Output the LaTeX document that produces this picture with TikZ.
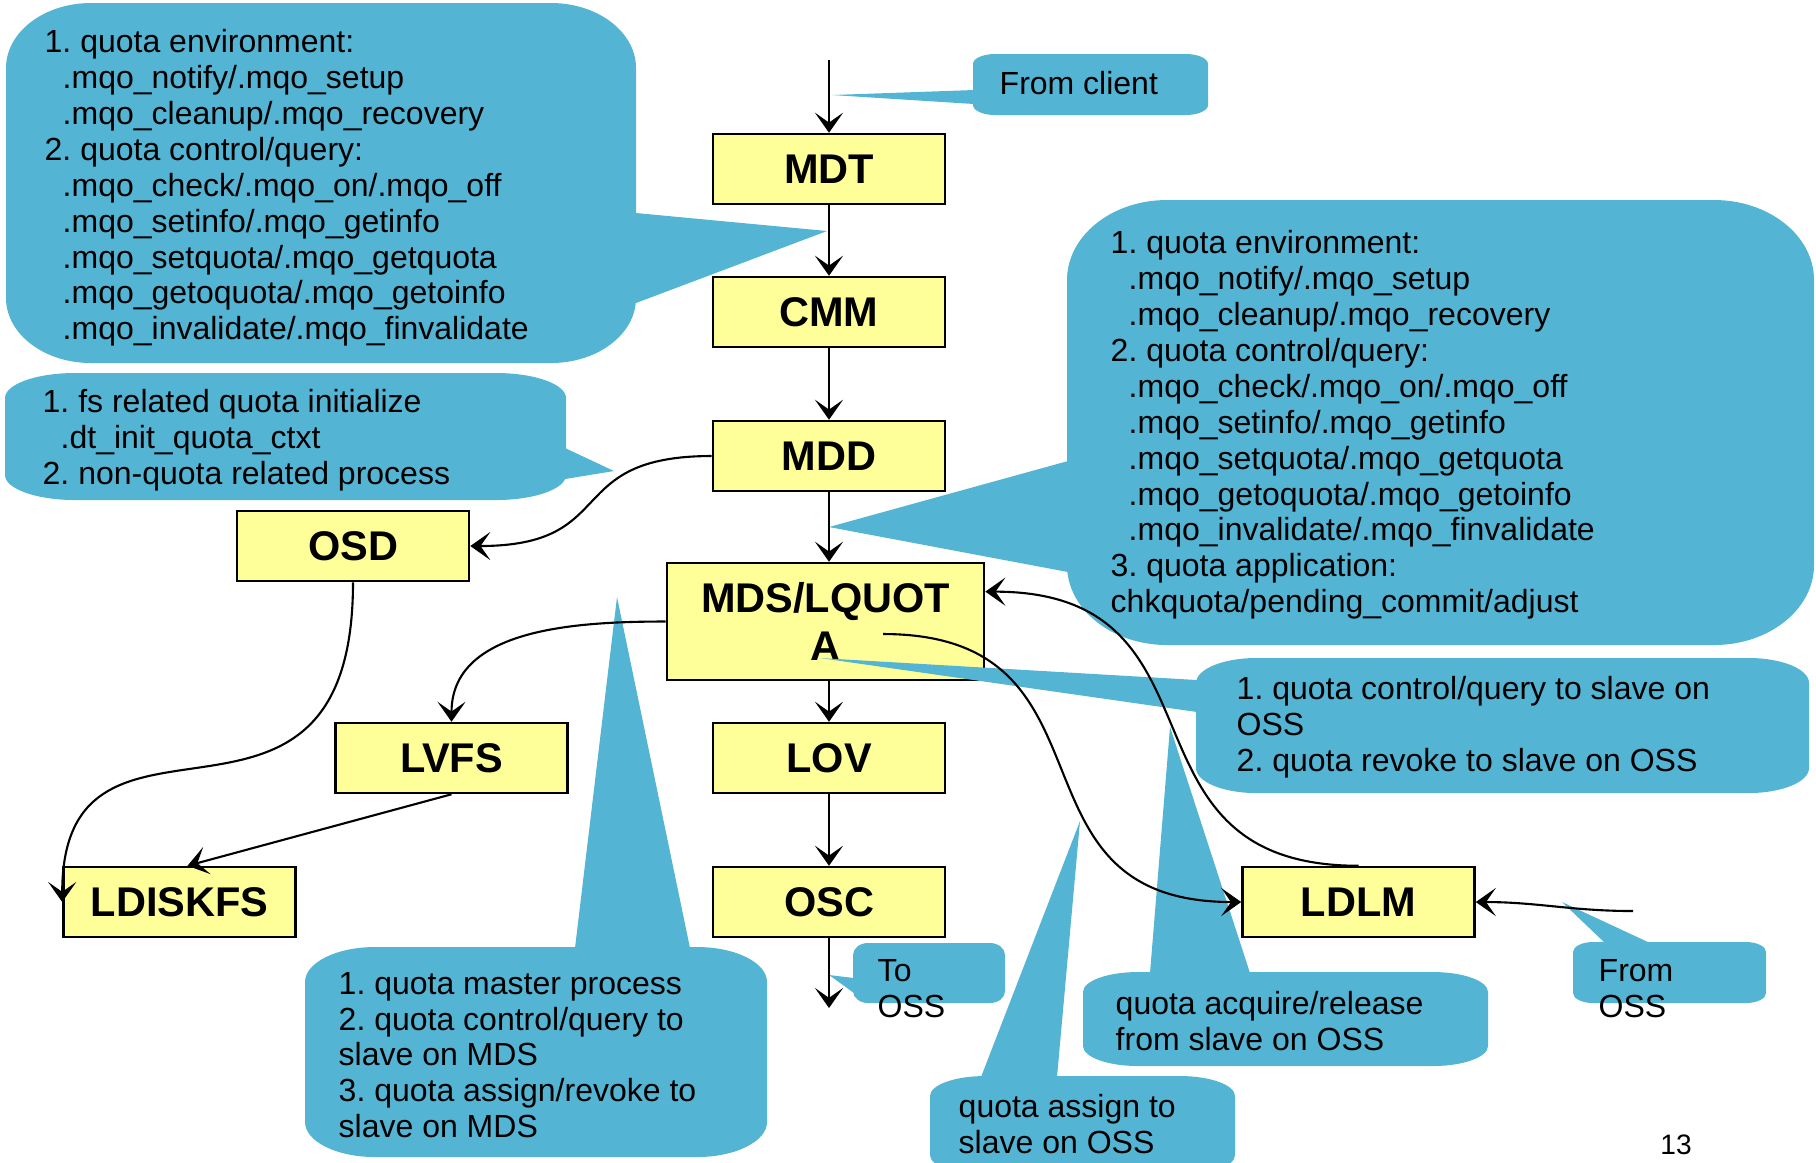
\documentclass[tikz,border=0pt]{standalone}
\usepackage{fontspec}
\setmainfont{Liberation Sans}
\usetikzlibrary{arrows.meta,calc}
\definecolor{calloutblue}{HTML}{53B4D4}
\definecolor{boxyellow}{HTML}{FFFF99}
\newcommand{\indnt}{\hspace*{0.18cm}}
% callout body: x1,y1,x2,y2,rx,ry (picture units)
\newcommand{\calloutbody}[6]{%
  \fill[calloutblue] (#1,#2+#6)
    arc[start angle=180,end angle=90,x radius=#5*0.01cm,y radius=#6*0.01cm]
    -- (#3-#5,#2) arc[start angle=90,end angle=0,x radius=#5*0.01cm,y radius=#6*0.01cm]
    -- (#3,#4-#6) arc[start angle=0,end angle=-90,x radius=#5*0.01cm,y radius=#6*0.01cm]
    -- (#1+#5,#4) arc[start angle=270,end angle=180,x radius=#5*0.01cm,y radius=#6*0.01cm]
    -- cycle;}

\begin{document}
\frenchspacing
\begin{tikzpicture}[
    x=0.01cm, y=-0.01cm,
    module/.style={draw, line width=0.7pt, fill=boxyellow, minimum width=2.32cm,
                   minimum height=0.70cm, inner sep=0pt,
                   font=\fontsize{11.8}{13.7}\selectfont\bfseries},
    bubbletext/.style={anchor=west, align=left, inner sep=0pt,
                       font=\fontsize{9.1}{10.2}\selectfont},
    tail/.style={fill=calloutblue},
    flow/.style={line width=0.6pt, -{Stealth[length=5.7pt,width=8pt,inset=2.8pt]}}
]

\useasboundingbox (0,0) rectangle (1816,1162);
\clip (0,0) rectangle (1816,1162);

% --- main stack ---
\node[module] (MDT) at (829,169) {MDT};
\node[module] (CMM) at (829,312) {CMM};
\node[module] (MDD) at (829,456) {MDD};
\node[module, minimum width=3.17cm, minimum height=1.17cm, align=center] (MDS) at (825.5,621.5) {MDS/LQUOT\\A};
\node[module] (LOV) at (829,758) {LOV};
\node[module] (OSC) at (829,902) {OSC};

% --- side modules ---
\node[module] (OSD) at (353,546) {OSD};
\node[module] (LVFS) at (451.5,758) {LVFS};
\node[module] (LDISKFS) at (179.5,902) {LDISKFS};
\node[module] (LDLM) at (1358.5,902) {LDLM};

% --- free ends ---
\coordinate (client) at (829,60);
\coordinate (toOSS) at (829,1008);
\coordinate (fromOSS) at (1633,911);
\coordinate (mdsA) at (883,634);
\coordinate (mdsR) at ($(MDS.north east)!0.25!(MDS.south east)$);

% --- callouts ---
\calloutbody{6}{3}{636}{363}{85}{65}
\fill[tail] (636,213) -- (827,231) -- (636,303) -- cycle;
\node[bubbletext] (cmmNote) at (44,188) {1. quota environment:\\
  \indnt .mqo\_notify/.mqo\_setup\\
  \indnt .mqo\_cleanup/.mqo\_recovery\\
  2. quota control/query:\\
  \indnt .mqo\_check/.mqo\_on/.mqo\_off\\
  \indnt .mqo\_setinfo/.mqo\_getinfo\\
  \indnt .mqo\_setquota/.mqo\_getquota\\
  \indnt .mqo\_getoquota/.mqo\_getoinfo\\
  \indnt .mqo\_invalidate/.mqo\_finvalidate};

\calloutbody{973}{54}{1208}{115}{22}{10}
\fill[tail] (974,90) -- (832,95) -- (974,104) -- cycle;
\node[bubbletext] (clientNote) at (999,83) {From client};

\calloutbody{1067}{200}{1814}{645}{100}{80}
\fill[tail] (1068,461) -- (829,527) -- (1068,572) -- cycle;
\node[bubbletext] (mddNote) at (1110,425) {1. quota environment:\\
  \indnt .mqo\_notify/.mqo\_setup\\
  \indnt .mqo\_cleanup/.mqo\_recovery\\
  2. quota control/query:\\
  \indnt .mqo\_check/.mqo\_on/.mqo\_off\\
  \indnt .mqo\_setinfo/.mqo\_getinfo\\
  \indnt .mqo\_setquota/.mqo\_getquota\\
  \indnt .mqo\_getoquota/.mqo\_getoinfo\\
  \indnt .mqo\_invalidate/.mqo\_finvalidate\\
  3. quota application:\\
  chkquota/pending\_commit/adjust};

\calloutbody{5}{373}{566}{500}{70}{25}
\fill[tail] (565,448) -- (614,471) -- (565,479) -- cycle;
\node[bubbletext] (osdNote) at (42,440) {1. fs related quota initialize\\
  \indnt .dt\_init\_quota\_ctxt\\
  2. non-quota related process};

\calloutbody{305}{947}{767}{1157}{70}{35}
\fill[tail] (575,948) -- (617,597) -- (690,948) -- cycle;
\node[bubbletext] (masterNote) at (338,1055) {1. quota master process\\
  2. quota control/query to\\
  slave on MDS\\
  3. quota assign/revoke to\\
  slave on MDS};

\calloutbody{1196}{658}{1809}{793}{60}{25}
\fill[tail] (1197,680) -- (820,658) -- (1197,712) -- cycle;
\node[bubbletext] (slaveNote) at (1236,727) {1. quota control/query to slave on\\
  OSS\\
  2. quota revoke to slave on OSS};

\calloutbody{1083}{972}{1488}{1066}{55}{20}
\fill[tail] (1150,973) -- (1170,727) -- (1250,973) -- cycle;
\node[bubbletext] (acqNote) at (1115,1021) {quota acquire/release\\
  from slave on OSS};

\calloutbody{930}{1076}{1235}{1175}{55}{20}
\fill[tail] (981,1077) -- (1080,821) -- (1057,1077) -- cycle;
\node[bubbletext] (assignNote) at (958,1124) {quota assign to\\
  slave on OSS};

\calloutbody{853}{943}{1005}{1003}{15}{12}
\fill[tail] (854,978) -- (829,975) -- (854,993) -- cycle;
\node[bubbletext] (toNote) at (877,989) {To\\OSS};

\calloutbody{1573}{942}{1766}{1003}{20}{10}
\fill[tail] (1605,943) -- (1562,902) -- (1650,943) -- cycle;
\node[bubbletext] (fromNote) at (1598,989) {From\\OSS};

\node[font=\fontsize{8}{9}\selectfont] (pageNo) at (1676,1145) {13};

% --- connections: main stack ---
\draw[flow] (client) -- (MDT);
\draw[flow] (MDT) -- (CMM);
\draw[flow] (CMM) -- (MDD);
\draw[flow] (MDD.south) -- (MDD.south |- MDS.north);
\draw[flow] (LOV.north |- MDS.south) -- (LOV.north);
\draw[flow] (LOV) -- (OSC);
\draw[flow] (OSC) -- (toOSS);

% --- connections: side paths ---
\draw[flow] (MDD.west) to[out=180,in=0,looseness=1.5] (OSD.east);
\draw[flow] (OSD.south) to[out=-90,in=90,out looseness=1.8,in looseness=1.4] (LDISKFS.west);
\draw[flow] (MDS.west) to[out=180,in=90] (LVFS.north);
\draw[flow] (LVFS.south) -- ([xshift=0.08cm]LDISKFS.north);

% --- connections: ldlm ---
\draw[flow] (mdsA) to[out=0,in=180,looseness=1.4] (LDLM.west);
\draw[flow] (LDLM.north) to[out=180,in=0,looseness=1.4] (mdsR);
\draw[flow] (fromOSS) to[out=180,in=0] (LDLM.east);

\end{tikzpicture}
\end{document}
